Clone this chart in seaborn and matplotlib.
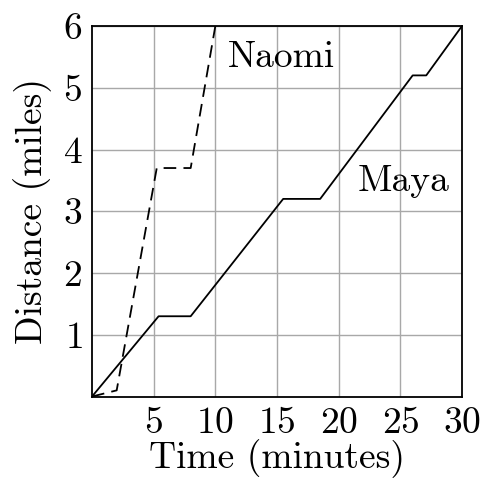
import pandas as pd
import matplotlib
matplotlib.use('Agg')
import matplotlib.pyplot as plt
import seaborn as sns

maya_time = [0, 5.4, 8.0, 15.5, 18.5, 26.0, 27.1, 30]
maya_dist = [0, 1.3, 1.3, 3.2, 3.2, 5.2, 5.2, 6.0]
naomi_time = [0, 2.0, 5.25, 8.0, 10.0]
naomi_dist = [0, 0.1, 3.7, 3.7, 6.0]
x_ticks = [5, 10, 15, 20, 25, 30]
y_ticks = [1, 2, 3, 4, 5, 6]

maya = pd.DataFrame({'time': maya_time, 'dist': maya_dist})
naomi = pd.DataFrame({'time': naomi_time, 'dist': naomi_dist})

sns.set_style('white')
plt.rcParams['font.family'] = ['cmr10', 'DejaVu Serif']
plt.rcParams['axes.formatter.use_mathtext'] = True
plt.rcParams['text.color'] = 'black'
plt.rcParams['axes.labelcolor'] = 'black'
plt.rcParams['xtick.color'] = 'black'
plt.rcParams['ytick.color'] = 'black'

fig = plt.figure(figsize=(4.85, 4.83), dpi=100)
ax = fig.add_axes([0.1897, 0.179, 0.7629, 0.7672])

sns.lineplot(data=maya, x='time', y='dist', color='black', lw=1.3, sort=False, ax=ax)
sns.lineplot(data=naomi, x='time', y='dist', color='black', lw=1.3, sort=False,
             ax=ax, linestyle=(0, (7, 4)))

ax.set_xlim(0, 30)
ax.set_ylim(0, 6)
ax.set_xticks(x_ticks)
ax.set_yticks(y_ticks)
ax.grid(True, color='#a8a8a8', lw=1)
ax.tick_params(length=0, labelsize=27, pad=7)
for s in ax.spines.values():
    s.set_color('black')
    s.set_linewidth(1.3)

ax.set_xlabel('Time (minutes)', fontsize=27, labelpad=0)
ax.set_ylabel('Distance (miles)', fontsize=27, labelpad=8)

ax.text(11.0, 5.49, 'Naomi', fontsize=27, va='center', ha='left')
ax.text(21.5, 3.48, 'Maya', fontsize=27, va='center', ha='left')

fig.savefig('out.png', dpi=100)
